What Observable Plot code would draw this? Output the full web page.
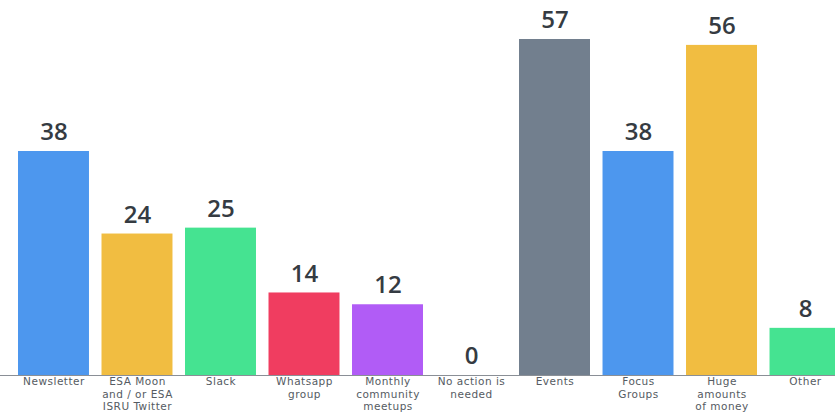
<!DOCTYPE html>
<html>
<head>
<meta charset="utf-8">
<script src="https://cdn.jsdelivr.net/npm/d3@7"></script>
<script src="https://cdn.jsdelivr.net/npm/@observablehq/plot@0.6"></script>
<style>
  html, body { margin: 0; padding: 0; background: #fff; }
  svg { display: block; }
</style>
</head>
<body>
<div id="chart"></div>
<script>
const categories = [
  "Newsletter",
  "ESA Moon\nand / or ESA\nISRU Twitter",
  "Slack",
  "Whatsapp\ngroup",
  "Monthly\ncommunity\nmeetups",
  "No action is\nneeded",
  "Events",
  "Focus\nGroups",
  "Huge\namounts\nof money",
  "Other"
];
const values = [38, 24, 25, 14, 12, 0, 57, 38, 56, 8];
const colors = ["#4D97EE", "#F1BD41", "#45E391", "#F03D60", "#B15CF6", "#FFFFFF", "#727F8E", "#4D97EE", "#F1BD41", "#45E391"];

const data = categories.map((c, i) => ({cat: c, value: values[i], color: colors[i]}));

const chart = Plot.plot({
  width: 835,
  height: 416,
  marginLeft: 0,
  marginRight: 0,
  marginTop: 0,
  marginBottom: 41,
  style: {fontFamily: "'DejaVu Sans', sans-serif", background: "#fff"},
  x: {domain: categories, range: [18, 840.5], paddingInner: 0.15, paddingOuter: 0, round: false, label: null},
  y: {domain: [0, 57], range: [375, 39], axis: null},
  marks: [
    Plot.barY(data, {x: "cat", y: "value", fill: "color"}),
    Plot.ruleY([0], {stroke: "#8a8f96", strokeWidth: 1}),
    Plot.text(data, {x: "cat", y: "value", text: d => String(d.value), dy: -19, fontSize: 24, fontWeight: 600, fill: "#353b42", fontFamily: "'Open Sans', sans-serif"}),
    Plot.axisX({tickSize: 0, tickPadding: 1, fontSize: 10.5, lineHeight: 1.19, fill: "#555b62", label: null})
  ]
});
chart.querySelectorAll("g[aria-label='x-axis tick label'] text").forEach(t => t.style.letterSpacing = "0.5px");
document.getElementById("chart").appendChild(chart);
</script>
</body>
</html>
